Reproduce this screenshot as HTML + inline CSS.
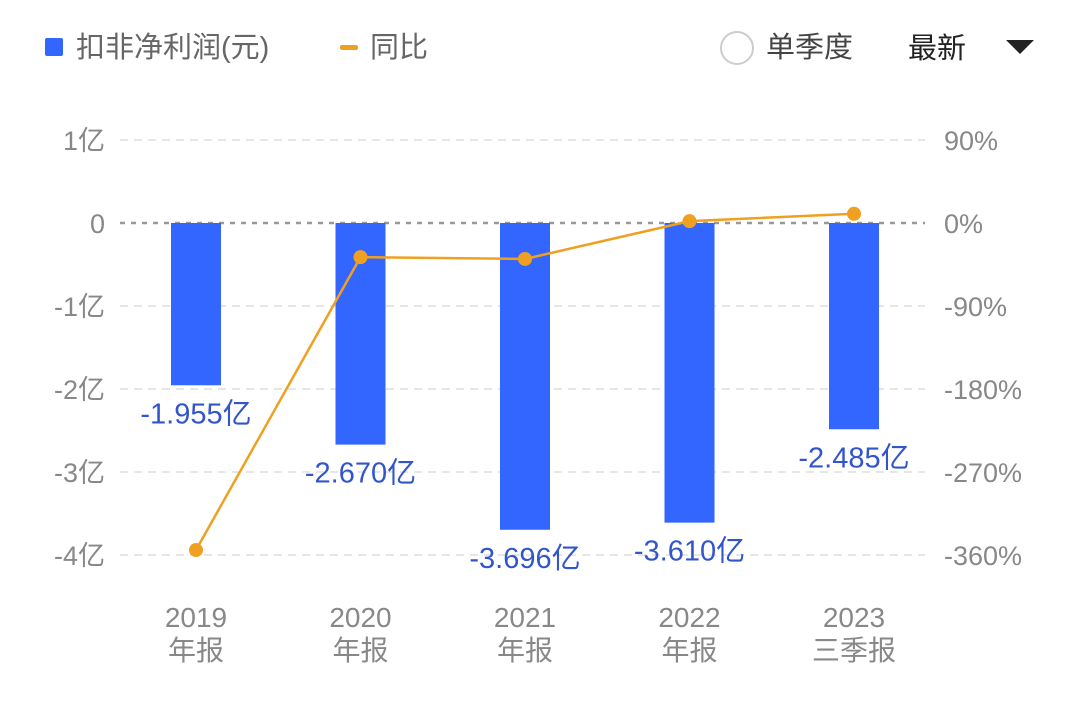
<!DOCTYPE html>
<html><head><meta charset="utf-8"><style>
body{margin:0;background:#fff;width:1080px;height:699px;overflow:hidden;font-family:"Liberation Sans","Noto Sans CJK SC",sans-serif;}
</style></head><body>
<svg width="1080" height="699" style="font-family:'Liberation Sans','Noto Sans CJK SC',sans-serif">
<g>
<rect x="45" y="38" width="18" height="18" rx="2" fill="#3366ff"/>
<text x="76" y="57" font-size="29" fill="#666">扣非净利润(元)</text>
<rect x="340" y="45" width="18" height="5" rx="2" fill="#f0a020"/>
<text x="370" y="57" font-size="29" fill="#666">同比</text>
<circle cx="737" cy="48" r="16" fill="#fff" stroke="#ccc" stroke-width="2"/>
<text x="766" y="57" font-size="29" fill="#444">单季度</text>
<text x="908" y="58" font-size="29" fill="#222">最新</text>
<path d="M1006 40 L1034 40 L1020 54 Z" fill="#222"/>
</g>
<g id="grid"></g><g id="bars"></g><g id="line"></g><g id="labels"></g>
</svg>
<script>
const categories=["2019","2020","2021","2022","2023"];
const catSub=["年报","年报","年报","年报","三季报"];
const profit=[-1.955,-2.670,-3.696,-3.610,-2.485];
const profitLabels=["-1.955亿","-2.670亿","-3.696亿","-3.610亿","-2.485亿"];
const yoy=[-354.6,-37,-39,2,10];
const leftTicks=[1,0,-1,-2,-3,-4];
const leftTickLabels=["1亿","0","-1亿","-2亿","-3亿","-4亿"];
const rightTicks=[90,0,-90,-180,-270,-360];
const rightTickLabels=["90%","0%","-90%","-180%","-270%","-360%"];
const NS="http://www.w3.org/2000/svg";
const y0=223, unit=83;
const yL=v=>y0-v*unit;
const yR=v=>y0-v/90*unit;
const xC=i=>196+i*164.5;
function mk(tag,attrs,parent,txt){const e=document.createElementNS(NS,tag);for(const k in attrs)e.setAttribute(k,attrs[k]);if(txt!=null)e.textContent=txt;document.getElementById(parent).appendChild(e);return e;}
leftTicks.forEach((t,i)=>{
 const y=yL(t);
 const g=mk("line",{x1:120,x2:925,y1:y,y2:y,stroke:t===0?"#999":"#e6e6e6","stroke-width":t===0?2.5:2,"stroke-dasharray":t===0?"5,6":"8,6"},"grid");
 
 
 const l=mk("text",{x:105,y:y+10,"font-size":27,fill:"#888","text-anchor":"end"},"grid",leftTickLabels[i]);
 
 
});
rightTicks.forEach((t,i)=>{
 const r=mk("text",{x:944,y:yR(t)+10,"font-size":27,fill:"#888"},"grid",rightTickLabels[i]);
 
 
});
categories.forEach((c,i)=>{
 const v=profit[i];
 const b=mk("rect",{x:xC(i)-25,y:Math.min(yL(0),yL(v)),width:50,height:Math.abs(yL(v)-yL(0)),fill:"#3366ff"},"bars");
 
 
 const lb=mk("text",{x:xC(i),y:yL(v)+38,"font-size":29,fill:"#3355cc","text-anchor":"middle"},"labels",profitLabels[i]);
 
 
 const x1=mk("text",{x:xC(i),y:627,"font-size":28,fill:"#888","text-anchor":"middle"},"labels",c);
 
 
 const x2=mk("text",{x:xC(i),y:660,"font-size":28,fill:"#888","text-anchor":"middle"},"labels",catSub[i]);
 
 
});
const pl=mk("polyline",{points:yoy.map((v,i)=>xC(i)+","+yR(v)).join(" "),fill:"none",stroke:"#f0a020","stroke-width":2.5},"line");


yoy.forEach((v,i)=>{
 const p=mk("circle",{cx:xC(i),cy:yR(v),r:7,fill:"#f0a020"},"line");
 
 
});
</script>
</body></html>
